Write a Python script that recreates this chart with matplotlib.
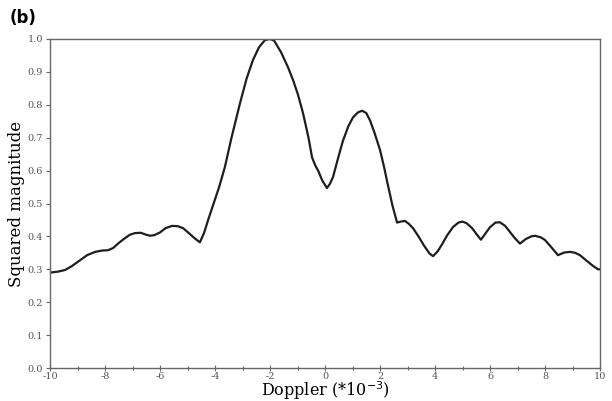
import matplotlib
matplotlib.use("Agg")
import matplotlib.pyplot as plt
from matplotlib.ticker import MultipleLocator

doppler = [-10.0, -9.7, -9.45, -9.2, -8.95, -8.65, -8.36, -8.1, -7.89, -7.7, -7.5, -7.3,
           -7.1, -6.91, -6.7, -6.5, -6.36, -6.2, -6.0, -5.8, -5.56, -5.35, -5.16, -4.95,
           -4.75, -4.55, -4.4, -4.25, -4.07, -3.85, -3.64, -3.4, -3.09, -2.85, -2.62,
           -2.4, -2.18, -2.0, -1.85, -1.6, -1.35, -1.16, -0.98, -0.8, -0.6, -0.47, -0.35,
           -0.25, -0.1, 0.07, 0.18, 0.29, 0.45, 0.65, 0.85, 1.02, 1.2, 1.35, 1.5, 1.64,
           1.8, 2.0, 2.15, 2.29, 2.45, 2.62, 2.75, 2.91, 3.05, 3.2, 3.4, 3.6, 3.8, 3.93,
           4.1, 4.25, 4.44, 4.65, 4.85, 5.0, 5.15, 5.35, 5.5, 5.67, 5.8, 6.0, 6.2, 6.36,
           6.55, 6.73, 6.9, 7.09, 7.3, 7.5, 7.64, 7.85, 8.0, 8.2, 8.47, 8.7, 8.91, 9.1,
           9.27, 9.5, 9.75, 9.93, 10.0]
magnitude = [0.290, 0.293, 0.298, 0.310, 0.325, 0.343, 0.353, 0.357, 0.358, 0.365, 0.380,
             0.393, 0.405, 0.410, 0.411, 0.405, 0.402, 0.404, 0.412, 0.425, 0.432, 0.431,
             0.425, 0.410, 0.395, 0.382, 0.410, 0.450, 0.495, 0.550, 0.611, 0.700, 0.805,
             0.880, 0.936, 0.975, 0.997, 1.000, 0.995, 0.960, 0.915, 0.875, 0.830, 0.775,
             0.700, 0.640, 0.615, 0.600, 0.570, 0.547, 0.560, 0.580, 0.630, 0.690, 0.735,
             0.762, 0.777, 0.782, 0.775, 0.752, 0.715, 0.663, 0.610, 0.555, 0.495, 0.442,
             0.445, 0.447, 0.438, 0.425, 0.400, 0.372, 0.348, 0.340, 0.355, 0.375, 0.403,
             0.428, 0.442, 0.445, 0.440, 0.425, 0.408, 0.390, 0.405, 0.428, 0.442, 0.443,
             0.432, 0.413, 0.395, 0.378, 0.392, 0.400, 0.402, 0.397, 0.389, 0.370, 0.343,
             0.351, 0.353, 0.350, 0.343, 0.327, 0.310, 0.300, 0.300]

xticks = [-10, -8, -6, -4, -2, 0, 2, 4, 6, 8, 10]
yticks = [0.0, 0.1, 0.2, 0.3, 0.4, 0.5, 0.6, 0.7, 0.8, 0.9, 1.0]

fig = plt.figure(figsize=(6.12, 4.01), dpi=100)
ax = fig.add_axes([50/612, 1-368/401, 550/612, 329/401])
ax.plot(doppler, magnitude, color="#1e1e1e", lw=1.6, solid_joinstyle="round")
ax.set_xlim(-10, 10)
ax.set_ylim(0, 1.0)
ax.set_xticks(xticks)
ax.set_yticks(yticks)
ax.set_xticklabels([str(t) for t in xticks])
ax.set_yticklabels([f"{t:.1f}" for t in yticks])
ax.xaxis.set_minor_locator(MultipleLocator(1))
for s in ax.spines.values():
    s.set_color("#666666")
    s.set_linewidth(1.0)
ax.tick_params(axis="both", which="major", direction="out", length=3, width=0.8,
               color="#666666", labelsize=7, labelcolor="#555555", pad=2)
ax.tick_params(axis="x", which="major", direction="inout", length=4, pad=1)
ax.tick_params(axis="x", which="minor", direction="inout", length=3, width=0.8, color="#666666")
for lbl in ax.get_xticklabels() + ax.get_yticklabels():
    lbl.set_family("DejaVu Serif")
ax.set_xlabel("Doppler (*10$^{-3}$)", fontsize=11.5, family="DejaVu Serif", labelpad=-1)
ax.set_ylabel("Squared magnitude", fontsize=12, family="DejaVu Serif", labelpad=2)
fig.text(10/612, 1-18/401, "(b)", fontsize=12, fontweight="bold", family="DejaVu Sans",
         va="center", ha="left")
fig.savefig("out.png", dpi=100)
